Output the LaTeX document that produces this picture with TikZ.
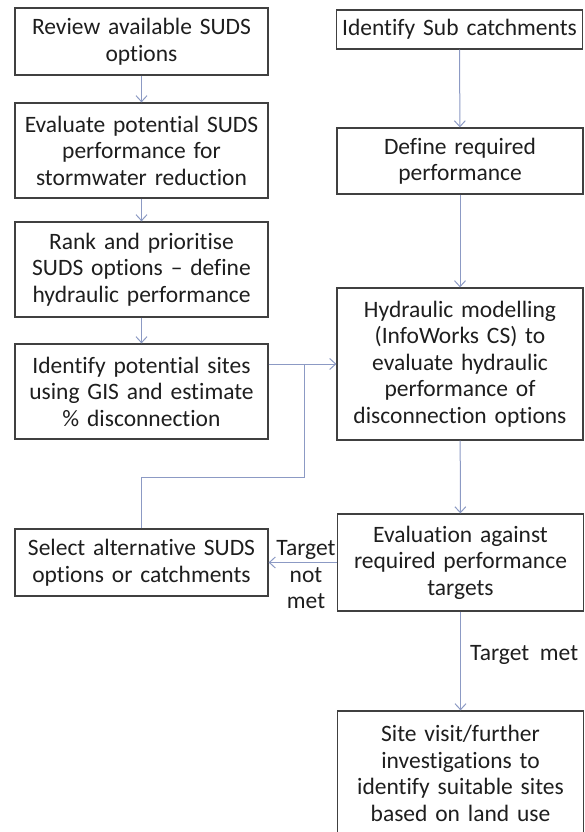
\documentclass[tikz,border=0pt]{standalone}
\usepackage{fontspec}
\setmainfont{Carlito}[Ligatures=NoCommon]
\usetikzlibrary{arrows.meta}
\definecolor{boxline}{HTML}{404040}
\definecolor{flowline}{HTML}{8C9AC4}
\definecolor{inktext}{HTML}{1E1E1E}

\begin{document}
\begin{tikzpicture}
[
    x=1pt, y=-1pt,
    box/.style={draw=boxline, line width=1.2pt, align=center, inner sep=0pt,
        text=inktext, font=\fontsize{23.5}{26.5}\selectfont},
    leftbox/.style={box, minimum width=253pt, text width=246pt},
    rightbox/.style={box, minimum width=246pt, text width=240pt},
    flow/.style={draw=flowline, line width=1pt, -{Straight Barb[length=6pt, width=11pt]}},
    flowlabel/.style={text=inktext, font=\fontsize{23.5}{26.5}\selectfont, align=center, inner sep=0pt}
]
    \useasboundingbox (0,0) rectangle (585,832);

    \begin{scope}
        \node [leftbox, minimum height=67pt] (review) at (141.5,41.5) {Review available SUDS\\options};
        \node [leftbox, minimum height=95pt] (evaluate) at (141.5,150.5) {Evaluate potential SUDS\\performance for\\stormwater reduction};
        \node [leftbox, minimum height=95pt] (rank) at (141.5,269.5) {Rank and prioritise\\SUDS options -- define\\hydraulic performance};
        \node [leftbox, minimum height=95pt] (sites) at (141.5,391.5) {Identify potential sites\\using GIS and estimate\\\% disconnection};
        \node [leftbox, minimum height=67pt] (select) at (141.5,562.5) {Select alternative SUDS\\options or catchments};
    \end{scope}

    \begin{scope}
        \node [rightbox, minimum height=39pt] (subcatch) at (459.5,29.5) {Identify Sub catchments};
        \node [rightbox, minimum height=66pt] (define) at (460,161) {Define required\\performance};
        \node [rightbox, minimum height=152pt] (hydraulic) at (460,364) {Hydraulic modelling\\(InfoWorks CS) to\\evaluate hydraulic\\performance of\\disconnection options};
        \node [rightbox, minimum height=97pt] (evaluation) at (460.5,562.5) {Evaluation against\\required performance\\targets};
        \node [rightbox, minimum height=125pt] (sitevisit) at (460.5,773.5) {Site visit/further\\investigations to\\identify suitable sites\\based on land use};
    \end{scope}

    \coordinate (join) at (304,364);
    \coordinate (bend) at (304,477);

    \draw [flow] (review) -- (evaluate);
    \draw [flow] (evaluate) -- (rank);
    \draw [flow] (rank) -- (sites);
    \draw [flow] (sites.east |- hydraulic.west) -- (hydraulic.west);
    \draw [draw=flowline, line width=1pt] (select.north) |- (bend) -- (join);

    \draw [flow] (subcatch) -- (define);
    \draw [flow] (define) -- (hydraulic);
    \draw [flow] (hydraulic) -- (evaluation);
    \draw [flow] (evaluation.west) -- (select.east);
    \draw [flow] (evaluation) -- (sitevisit);

    \node [flowlabel] (notmet) at (306,575) {Target\\not\\met};
    \node [flowlabel, anchor=west] (met) at (470,655) {Target~~met};
\end{tikzpicture}
\end{document}
